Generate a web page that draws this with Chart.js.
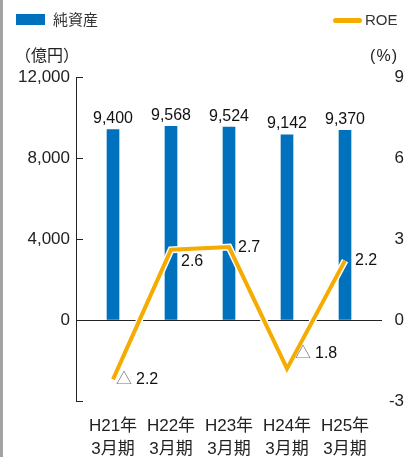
<!DOCTYPE html>
<html lang="ja">
<head>
<meta charset="utf-8">
<script src="https://cdn.jsdelivr.net/npm/chart.js@4"></script>
<style>
  html, body { margin: 0; padding: 0; background: #fff; }
  #wrap { position: relative; width: 404px; height: 457px; overflow: hidden;
          font-family: 'Liberation Sans', 'Noto Sans CJK JP', sans-serif; color: #222; }
  #frame { position: absolute; left: 0; top: 0; width: 3px; height: 457px; background: #a3a3a3; }
  .lbl { position: absolute; font-size: 15px; line-height: 16px; white-space: nowrap; }
  .swatch { position: absolute; }
  canvas { position: absolute; left: 0; top: 0; }
</style>
</head>
<body>
<div id="wrap">
  <canvas id="chart" width="404" height="457"></canvas>
  <div id="frame"></div>
  <div class="swatch" style="left:16px;top:14px;width:29px;height:11px;background:#0071bc"></div>
  <div class="lbl" style="left:53px;top:12px;color:#333">純資産</div>
  <div class="swatch" style="left:333px;top:18px;width:29px;height:5px;border-radius:3px;background:#f6ab00"></div>
  <div class="lbl" style="left:365px;top:12px;color:#333">ROE</div>
  <div class="lbl" style="left:15px;top:48px;font-size:16px">（億円）</div>
  <div class="lbl" style="right:6px;top:48px;font-size:16px;letter-spacing:1px">(%)</div>
</div>
<script>
// data
const periods = [['H21年', '3月期'], ['H22年', '3月期'], ['H23年', '3月期'], ['H24年', '3月期'], ['H25年', '3月期']];
const netAssets = [9400, 9568, 9524, 9142, 9370];   // 億円
const roe = [-2.2, 2.6, 2.7, -1.8, 2.2];             // %
const leftTicks = [-4000, 0, 4000, 8000, 12000];
const rightTicks = [-3, 0, 3, 6, 9];

const BLUE = '#0071bc';
const ORANGE = '#f6ab00';
const FONT = "'Liberation Sans', 'Noto Sans CJK JP', sans-serif";

// where each ROE label sits relative to its point (dx to text start, dy to text middle)
const roeLabelOffset = [[3, 0], [10, 12], [9, 0], [8, -15], [10, 0]];

const xy = arr => arr.map((v, i) => ({ x: i, y: v }));

// inner tick marks on the left axis + value labels
const extras = {
  id: 'extras',
  afterDatasetsDraw(chart) {
    const { ctx, scales } = chart;
    const ys = scales.y, xs = scales.x;
    ctx.save();
    ctx.strokeStyle = '#222';
    ctx.lineWidth = 1;
    leftTicks.forEach(v => {
      const y = Math.round(ys.getPixelForValue(v)) + 0.5;
      ctx.beginPath();
      ctx.moveTo(ys.right, y);
      ctx.lineTo(ys.right + 7, y);
      ctx.stroke();
    });

    ctx.textBaseline = 'middle';
    ctx.font = '16px ' + FONT;
    ctx.fillStyle = '#111';
    ctx.textAlign = 'center';
    netAssets.forEach((v, i) => {
      const x = xs.getPixelForValue(i);
      const y = ys.getPixelForValue(v);
      ctx.fillText(v.toLocaleString('en-US'), x, y - 11);
    });

    ctx.textAlign = 'left';
    roe.forEach((v, i) => {
      const x = xs.getPixelForValue(i) + roeLabelOffset[i][0];
      const y = scales.y1.getPixelForValue(v) + roeLabelOffset[i][1];
      let tx = x;
      if (v < 0) {
        ctx.fillStyle = '#777';
        ctx.fillText('△', tx, y);
        tx += ctx.measureText('△').width + 4;
      }
      ctx.fillStyle = '#111';
      ctx.fillText(Math.abs(v).toFixed(1), tx, y);
    });
    ctx.restore();
  }
};

new Chart(document.getElementById('chart'), {
  data: {
    datasets: [
      {
        type: 'line',
        label: 'ROE',
        data: xy(roe),
        yAxisID: 'y1',
        borderColor: ORANGE,
        borderWidth: 4,
        pointRadius: 0,
        tension: 0,
        order: 1
      },
      {
        type: 'line',
        label: 'outline',
        data: xy(roe),
        yAxisID: 'y1',
        borderColor: '#fff',
        borderWidth: 7,
        pointRadius: 0,
        tension: 0,
        order: 2
      },
      {
        type: 'bar',
        label: '純資産',
        data: xy(netAssets),
        yAxisID: 'y',
        backgroundColor: BLUE,
        barThickness: 12,
        order: 3
      }
    ]
  },
  options: {
    responsive: false,
    animation: false,
    layout: { padding: { top: 77, left: 0, right: 0, bottom: 0 } },
    plugins: { legend: { display: false }, tooltip: { enabled: false } },
    scales: {
      x: {
        type: 'linear',
        offset: false,
        min: -0.638,
        max: 4.638,
        afterBuildTicks: s => { s.ticks = periods.map((_, i) => ({ value: i })); },
        afterFit: s => { s.height = 56; },
        grid: { display: false },
        border: { display: false },
        ticks: {
          callback: v => periods[v],
          color: '#222',
          padding: 5,
          maxRotation: 0,
          autoSkip: false,
          font: { family: FONT, size: 17, lineHeight: 1.4 }
        }
      },
      y: {
        position: 'left',
        min: -4000,
        max: 12000,
        afterBuildTicks: s => { s.ticks = leftTicks.map(v => ({ value: v })); },
        afterFit: s => { s.width = 76; },
        grid: {
          drawTicks: false,
          color: c => (c.tick && c.tick.value === 0 ? '#222' : 'rgba(0,0,0,0)'),
          lineWidth: 1
        },
        border: { display: true, color: '#222', width: 1 },
        ticks: {
          padding: 6,
          color: '#222',
          font: { family: FONT, size: 17 },
          callback: v => (v === -4000 ? '' : v.toLocaleString('en-US'))
        }
      },
      y1: {
        position: 'right',
        min: -3,
        max: 9,
        afterBuildTicks: s => { s.ticks = rightTicks.map(v => ({ value: v })); },
        afterFit: s => { s.width = 22; },
        grid: { display: false, drawTicks: false },
        border: { display: false },
        ticks: {
          padding: 1,
          crossAlign: 'far',
          color: '#222',
          font: { family: FONT, size: 17 },
          callback: v => String(v)
        }
      }
    }
  },
  plugins: [extras]
});
</script>
</body>
</html>
